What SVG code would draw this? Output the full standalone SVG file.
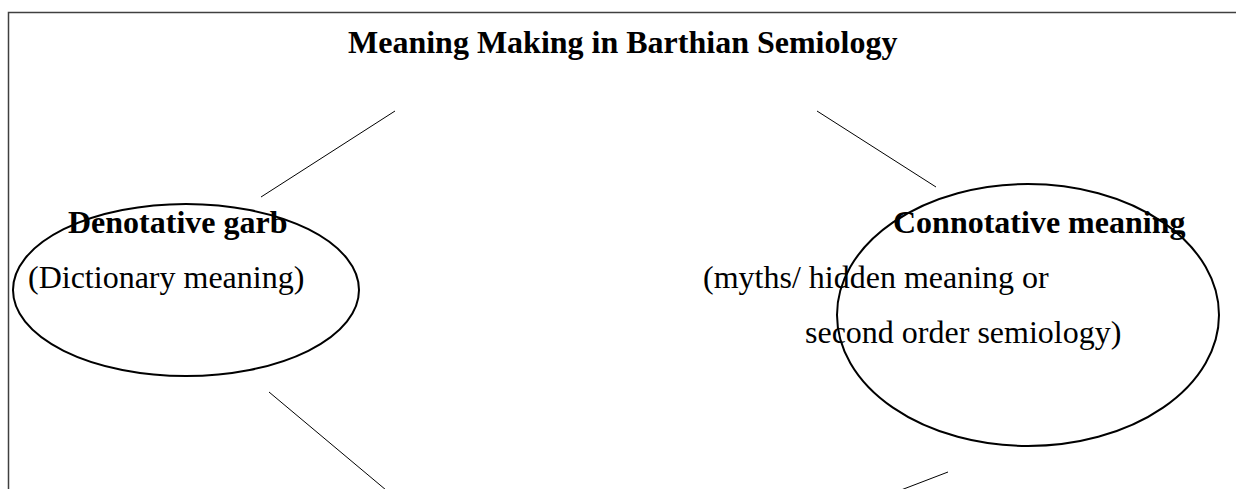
<svg xmlns="http://www.w3.org/2000/svg" width="1236" height="489" viewBox="0 0 1236 489">
<style>
.bold{font-family:"Liberation Serif","Times New Roman",serif;font-weight:bold;font-size:32px;fill:#000}
.reg{font-family:"Liberation Serif","Times New Roman",serif;font-size:32px;fill:#000}
.oval{fill:none;stroke:#000;stroke-width:2}
.conn{stroke:#000;stroke-width:1;fill:none}
.frame{fill:none;stroke:#404040;stroke-width:1.5}
</style>
<rect width="1236" height="489" fill="#fff"/>
<path class="frame" d="M8.5 489 V12.5 H1240"/>
<g id="title">
<text class="bold" x="348" y="53" font-size="30.9">Meaning Making in Barthian Semiology</text>
</g>
<g id="denotative">
<ellipse class="oval" cx="186" cy="290" rx="173" ry="86"/>
<text class="bold" x="68" y="233">Denotative garb</text>
<text class="reg" x="28" y="288">(Dictionary meaning)</text>
</g>
<g id="connotative">
<ellipse class="oval" cx="1028" cy="315" rx="191" ry="131"/>
<text class="bold" x="893" y="233">Connotative meaning</text>
<text class="reg" x="703" y="288">(myths/ hidden meaning or</text>
<text class="reg" x="805" y="343">second order semiology)</text>
</g>
<g id="connectors">
<line class="conn" x1="261" y1="197" x2="395" y2="111"/>
<line class="conn" x1="817" y1="111" x2="936" y2="187"/>
<line class="conn" x1="269" y1="392" x2="386" y2="490"/>
<line class="conn" x1="948" y1="472" x2="901" y2="490"/>
</g>
</svg>
